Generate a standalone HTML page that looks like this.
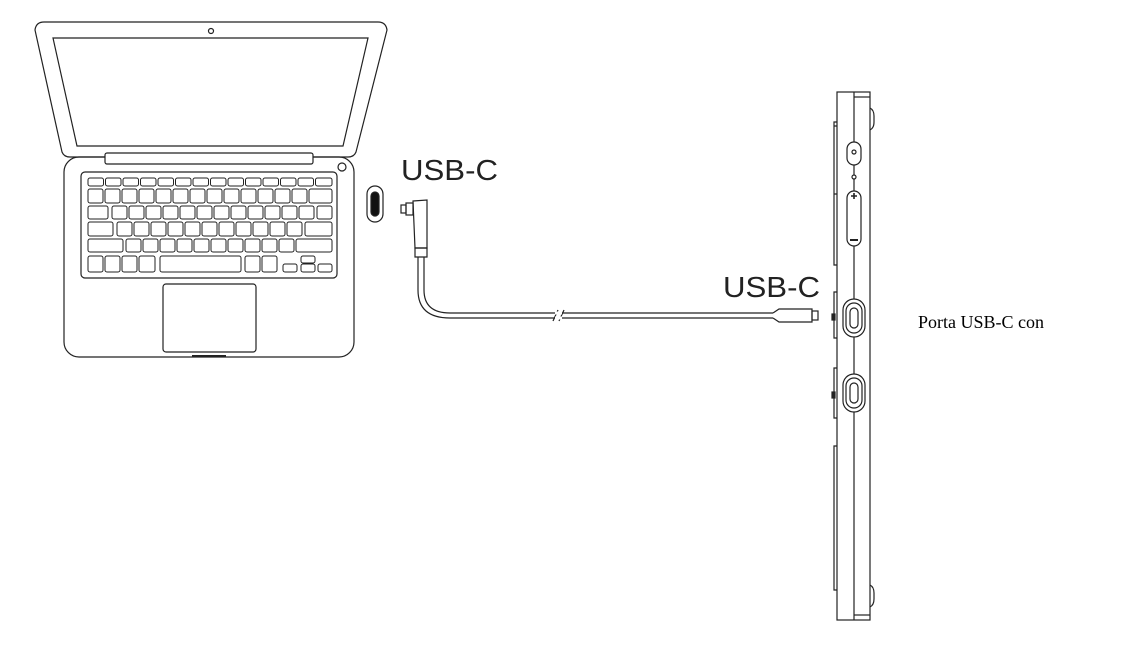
<!DOCTYPE html>
<html><head><meta charset="utf-8"><style>
html,body{margin:0;padding:0;background:#fff;}
svg{display:block;}
</style></head><body>
<svg width="1125" height="658" viewBox="0 0 1125 658" xmlns="http://www.w3.org/2000/svg">
<g fill="none" stroke="#222" stroke-width="1.2">
<!-- Laptop lid -->
<path d="M44 22 Q36 22 35 30 L62 152 Q64 157 70 157 L348 157 Q354 157 356 152 L387 30 Q386 22 378 22 Z"/>
<path d="M53 38 L368 38 L343 146 L77 146 Z"/>
<circle cx="211" cy="31" r="2.5"/>
<!-- base -->
<rect x="64" y="157" width="290" height="200" rx="15"/>
<rect x="105" y="153" width="208" height="11" rx="2" fill="#fff"/>
<circle cx="342" cy="167" r="4"/>
<rect x="81" y="172" width="256" height="106" rx="4"/>
<rect x="163" y="284" width="93" height="68" rx="3"/>
<line x1="192" y1="356" x2="226" y2="356" stroke-width="2"/>
<!-- keys row1 -->
<g stroke-width="1">
<rect x="88" y="178" width="15.5" height="8" rx="2"/><rect x="105.5" y="178" width="15.5" height="8" rx="2"/><rect x="123" y="178" width="15.5" height="8" rx="2"/><rect x="140.5" y="178" width="15.5" height="8" rx="2"/><rect x="158" y="178" width="15.5" height="8" rx="2"/><rect x="175.5" y="178" width="15.5" height="8" rx="2"/><rect x="193" y="178" width="15.5" height="8" rx="2"/><rect x="210.5" y="178" width="15.5" height="8" rx="2"/><rect x="228" y="178" width="15.5" height="8" rx="2"/><rect x="245.5" y="178" width="15.5" height="8" rx="2"/><rect x="263" y="178" width="15.5" height="8" rx="2"/><rect x="280.5" y="178" width="15.5" height="8" rx="2"/><rect x="298" y="178" width="15.5" height="8" rx="2"/><rect x="315.5" y="178" width="16.5" height="8" rx="2"/>
<!-- row2 -->
<rect x="88" y="189" width="15" height="14" rx="2"/><rect x="105" y="189" width="15" height="14" rx="2"/><rect x="122" y="189" width="15" height="14" rx="2"/><rect x="139" y="189" width="15" height="14" rx="2"/><rect x="156" y="189" width="15" height="14" rx="2"/><rect x="173" y="189" width="15" height="14" rx="2"/><rect x="190" y="189" width="15" height="14" rx="2"/><rect x="207" y="189" width="15" height="14" rx="2"/><rect x="224" y="189" width="15" height="14" rx="2"/><rect x="241" y="189" width="15" height="14" rx="2"/><rect x="258" y="189" width="15" height="14" rx="2"/><rect x="275" y="189" width="15" height="14" rx="2"/><rect x="292" y="189" width="15" height="14" rx="2"/><rect x="309" y="189" width="23" height="14" rx="2"/>
<!-- row3 -->
<rect x="88" y="206" width="20" height="13" rx="2"/><rect x="112" y="206" width="15" height="13" rx="2"/><rect x="129" y="206" width="15" height="13" rx="2"/><rect x="146" y="206" width="15" height="13" rx="2"/><rect x="163" y="206" width="15" height="13" rx="2"/><rect x="180" y="206" width="15" height="13" rx="2"/><rect x="197" y="206" width="15" height="13" rx="2"/><rect x="214" y="206" width="15" height="13" rx="2"/><rect x="231" y="206" width="15" height="13" rx="2"/><rect x="248" y="206" width="15" height="13" rx="2"/><rect x="265" y="206" width="15" height="13" rx="2"/><rect x="282" y="206" width="15" height="13" rx="2"/><rect x="299" y="206" width="15" height="13" rx="2"/><rect x="317" y="206" width="15" height="13" rx="2"/>
<!-- row4 -->
<rect x="88" y="222" width="25" height="14" rx="2"/><rect x="117" y="222" width="15" height="14" rx="2"/><rect x="134" y="222" width="15" height="14" rx="2"/><rect x="151" y="222" width="15" height="14" rx="2"/><rect x="168" y="222" width="15" height="14" rx="2"/><rect x="185" y="222" width="15" height="14" rx="2"/><rect x="202" y="222" width="15" height="14" rx="2"/><rect x="219" y="222" width="15" height="14" rx="2"/><rect x="236" y="222" width="15" height="14" rx="2"/><rect x="253" y="222" width="15" height="14" rx="2"/><rect x="270" y="222" width="15" height="14" rx="2"/><rect x="287" y="222" width="15" height="14" rx="2"/><rect x="305" y="222" width="27" height="14" rx="2"/>
<!-- row5 -->
<rect x="88" y="239" width="35" height="13" rx="2"/><rect x="126" y="239" width="15" height="13" rx="2"/><rect x="143" y="239" width="15" height="13" rx="2"/><rect x="160" y="239" width="15" height="13" rx="2"/><rect x="177" y="239" width="15" height="13" rx="2"/><rect x="194" y="239" width="15" height="13" rx="2"/><rect x="211" y="239" width="15" height="13" rx="2"/><rect x="228" y="239" width="15" height="13" rx="2"/><rect x="245" y="239" width="15" height="13" rx="2"/><rect x="262" y="239" width="15" height="13" rx="2"/><rect x="279" y="239" width="15" height="13" rx="2"/><rect x="296" y="239" width="36" height="13" rx="2"/>
<!-- row6 -->
<rect x="88" y="256" width="15" height="16" rx="2"/><rect x="105" y="256" width="15" height="16" rx="2"/><rect x="122" y="256" width="15" height="16" rx="2"/><rect x="139" y="256" width="16" height="16" rx="2"/><rect x="160" y="256" width="81" height="16" rx="2"/><rect x="245" y="256" width="15" height="16" rx="2"/><rect x="262" y="256" width="15" height="16" rx="2"/>
<rect x="283" y="264" width="14" height="8" rx="2"/><rect x="301" y="256" width="14" height="7" rx="2"/><rect x="301" y="264" width="14" height="8" rx="2"/><rect x="318" y="264" width="14" height="8" rx="2"/>
</g>
<!-- port icon -->
<rect x="367" y="186" width="16" height="36" rx="8"/>
<rect x="371" y="192" width="8" height="24" rx="4" fill="#111"/>
<!-- cable left connector -->
<rect x="401" y="205" width="5" height="8"/>
<rect x="406" y="203" width="7" height="12"/>
<path d="M413 201 L427 200 L427 248 L415 248 Z"/>
<path d="M415 248 L427 248 L427 257 L415 257 Z"/>
<path d="M418 257 L418 290 Q418 318 450 318 L773 318"/>
<path d="M424 257 L424 290 Q424 313 450 313 L773 313"/>
<line x1="553" y1="321" x2="558" y2="310" />
<line x1="559" y1="321" x2="564" y2="310" />
<line x1="555" y1="313" x2="562" y2="313" stroke="#fff" stroke-width="3"/>
<line x1="555" y1="318" x2="562" y2="318" stroke="#fff" stroke-width="3"/>
<!-- right connector -->
<path d="M773 313 L779 309 L812 309 L812 322 L779 322 L773 318"/>
<rect x="812" y="311" width="6" height="9"/>
<!-- tablet -->
<rect x="837" y="92" width="33" height="528"/>
<line x1="854" y1="92" x2="854" y2="620"/>
<line x1="854" y1="97" x2="870" y2="97"/>
<line x1="854" y1="615" x2="870" y2="615"/>
<path d="M870 108 Q874 110 874 116 L874 122 Q874 128 870 130"/>
<path d="M870 585 Q874 587 874 593 L874 599 Q874 605 870 607"/>
<path d="M837 122 L834 122 L834 265 L837 265"/>
<path d="M837 126 L834 126 M837 194 L834 194"/>
<path d="M837 292 L834 292 L834 338 L837 338"/>
<path d="M837 368 L834 368 L834 418 L837 418"/>
<path d="M837 446 L834 446 L834 590 L837 590"/>
<rect x="832" y="314" width="3" height="6" fill="#222"/>
<rect x="832" y="392" width="3" height="6" fill="#222"/>
<rect x="847" y="142" width="14" height="23" rx="7" fill="#fff"/>
<circle cx="854" cy="152" r="2"/>
<circle cx="854" cy="177" r="2" fill="#fff"/>
<rect x="847" y="191" width="14" height="55" rx="7" fill="#fff"/>
<path d="M851 196 L857 196 M854 193 L854 199" stroke-width="1.6"/>
<path d="M850 240 L858 240" stroke-width="2"/>
<rect x="843" y="299" width="22" height="38" rx="11" fill="#fff"/>
<rect x="846" y="303" width="16" height="30" rx="8"/>
<rect x="850" y="308" width="8" height="20" rx="4"/>
<rect x="843" y="374" width="22" height="38" rx="11" fill="#fff"/>
<rect x="846" y="378" width="16" height="30" rx="8"/>
<rect x="850" y="383" width="8" height="20" rx="4"/>
</g>
<g fill="#222" font-family="'Liberation Sans', sans-serif" font-size="29">
<text x="401" y="180" textLength="97" lengthAdjust="spacingAndGlyphs">USB-C</text>
<text x="723" y="297" textLength="97" lengthAdjust="spacingAndGlyphs">USB-C</text>
</g>
<text x="918" y="328" font-family="'Liberation Serif', serif" font-size="18" fill="#000">Porta USB-C con</text>
</svg>
</body></html>
